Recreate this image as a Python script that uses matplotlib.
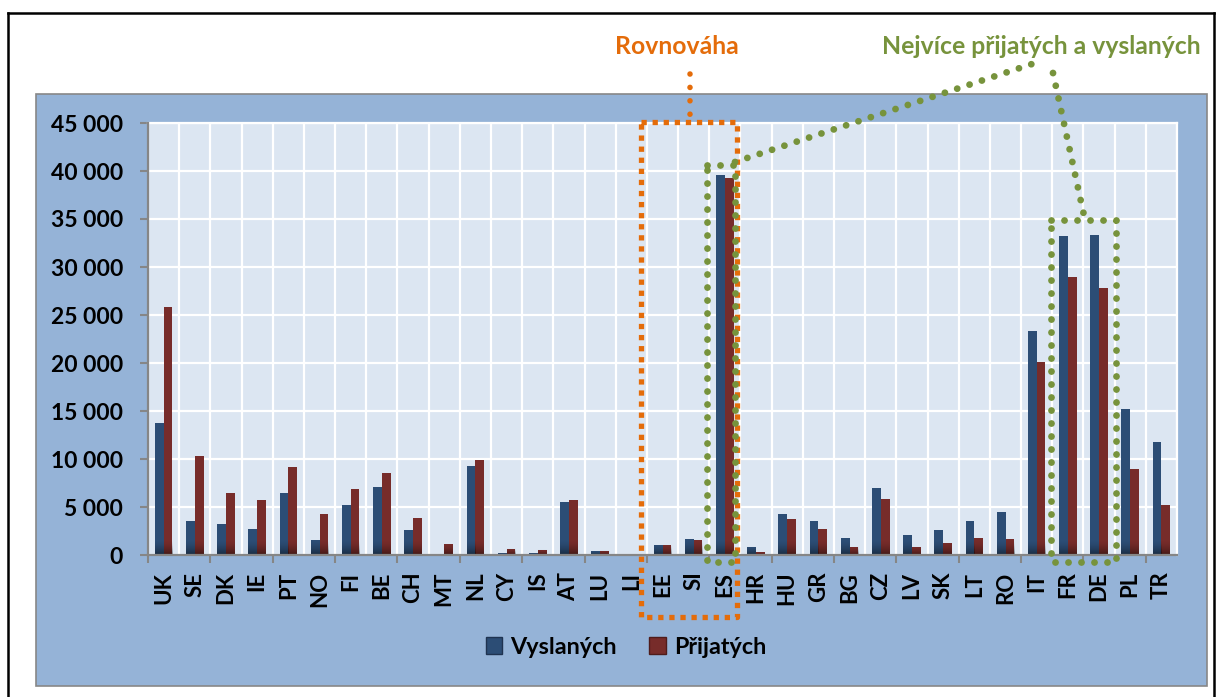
import numpy as np
import matplotlib
matplotlib.use("Agg")
import matplotlib.pyplot as plt
from matplotlib.patches import Rectangle, Patch
from matplotlib.lines import Line2D

countries = ["UK", "SE", "DK", "IE", "PT", "NO", "FI", "BE", "CH", "MT", "NL", "CY", "IS",
             "AT", "LU", "LI", "EE", "SI", "ES", "HR", "HU", "GR", "BG", "CZ", "LV", "SK",
             "LT", "RO", "IT", "FR", "DE", "PL", "TR"]
vyslanych = [13700, 3500, 3250, 2700, 6450, 1600, 5250, 7050, 2650, 100, 9300, 200, 200,
             5550, 400, 10, 1050, 1700, 39600, 850, 4300, 3500, 1800, 6950, 2100, 2600,
             3500, 4500, 23350, 33250, 33350, 15250, 11800]
prijatych = [25800, 10300, 6500, 5700, 9200, 4300, 6900, 8550, 3850, 1150, 9850, 650, 550,
             5750, 450, 5, 1050, 1600, 39300, 300, 3700, 2700, 850, 5800, 850, 1300,
             1800, 1700, 20150, 28950, 27850, 8950, 5200]
y_ticks = [0, 5000, 10000, 15000, 20000, 25000, 30000, 35000, 40000, 45000]
series_names = ["Vyslaných", "Přijatých"]
label_balance = "Rovnováha"
label_most = "Nejvíce přijatých a vyslaných"

FONT = ["Lato", "DejaVu Sans"]
plt.rcParams["font.family"] = FONT
plt.rcParams["font.weight"] = "bold"

W, H = 1218, 697
fig = plt.figure(figsize=(W / 100, H / 100), dpi=100)
fig.patch.set_facecolor("white")


def P(px, py):
    return (px / W, 1 - py / H)


# outer black frame
fig.add_artist(Line2D([8 / W, 8 / W], [0, 1 - 13 / H], transform=fig.transFigure,
                      color="black", lw=1.8, zorder=0))
fig.add_artist(Line2D([8 / W, 1214 / W], [1 - 13 / H, 1 - 13 / H], transform=fig.transFigure,
                      color="black", lw=1.8, zorder=0))
fig.add_artist(Line2D([1214 / W, 1214 / W], [0, 1 - 13 / H], transform=fig.transFigure,
                      color="black", lw=1.8, zorder=0))

# chart area
fig.add_artist(Rectangle(P(36, 686), (1207 - 36) / W, (686 - 94) / H, transform=fig.transFigure,
                         facecolor="#95B3D7", edgecolor="#878787", lw=1.2, zorder=0))

ax = fig.add_axes([148 / W, (H - 555) / H, (1177 - 148) / W, (555 - 123) / H])
ax.set_facecolor("#DCE6F2")

n = len(countries)
x = np.arange(n)
bw = 0.28
blue = "#2C4D75"
red = "#772C2A"
b1 = ax.bar(x - bw / 2, vyslanych, bw, color=blue, zorder=3)
b2 = ax.bar(x + bw / 2, prijatych, bw, color=red, zorder=3)

# darker bottom gradient on bars
grad = np.zeros((64, 1, 4))
grad[..., 3] = (np.linspace(0, 1, 64) ** 1.6)[:, None] * 0.45
for bars in (b1, b2):
    for r in bars:
        h = r.get_height()
        if h <= 0:
            continue
        hh = min(h, 1500)
        ax.imshow(grad, extent=[r.get_x(), r.get_x() + r.get_width(), 0, hh],
                  aspect="auto", origin="upper", interpolation="bilinear", zorder=4)

ax.set_xlim(-0.5, n - 0.5)
ax.set_ylim(0, 45000)

# grid
for b in np.arange(-0.5, n, 1.0):
    ax.axvline(b, color="white", lw=1.6, zorder=1)
ax.set_yticks(y_ticks)
ax.set_yticklabels([f"{v:,}".replace(",", " ") for v in y_ticks])
ax.yaxis.grid(True, color="white", lw=1.6, zorder=1)
ax.set_axisbelow(True)

ax.set_xticks(x)
ax.set_xticklabels(countries, rotation=90, va="top", ha="center")
ax.set_xticks(np.arange(-0.5, n, 2.0), minor=True)
ax.tick_params(axis="x", which="major", length=0, pad=12, labelsize=16)
ax.tick_params(axis="x", which="minor", length=6, width=1.5, color="#868686", direction="out")
ax.tick_params(axis="y", length=6, width=1.5, color="#868686", pad=12, labelsize=16.5)
for lab in ax.get_xticklabels() + ax.get_yticklabels():
    lab.set_fontweight("bold")
    lab.set_color("black")

for s in ("left", "bottom"):
    ax.spines[s].set_color("#868686")
    ax.spines[s].set_linewidth(1.6)
    ax.spines[s].set_zorder(5)
for s in ("top", "right"):
    ax.spines[s].set_color("white")
    ax.spines[s].set_linewidth(1.6)

# legend
handles = [Patch(facecolor=blue, edgecolor="#1F3350"), Patch(facecolor=red, edgecolor="#4F1C1B")]
fig.legend(handles, series_names, loc="center", bbox_to_anchor=P(626, 647), ncol=2,
           frameon=False, handlelength=0.7, handleheight=0.7, handletextpad=0.35,
           columnspacing=1.4, prop={"weight": "bold", "size": 16.8, "family": FONT})

# annotations
orange = "#E46C0A"
green = "#77933C"
fig.text(*P(677, 47), label_balance, color=orange, fontsize=17.8, fontweight="bold",
         ha="center", va="center")
fig.text(*P(1041, 47), label_most, color=green, fontsize=17.8, fontweight="bold",
         ha="center", va="center")


def fig_line(pts, color, lw, ls, cap):
    xs = [p[0] / W for p in pts]
    ys = [1 - p[1] / H for p in pts]
    ln = Line2D(xs, ys, transform=fig.transFigure, color=color, lw=lw, linestyle=ls,
                dash_capstyle=cap, solid_capstyle=cap, zorder=10)
    fig.add_artist(ln)


o_ls = (0, (1.0, 1.1))
fig_line([(690, 74), (690, 121)], orange, 4.0, (0, (0.01, 2.4)), "round")
fig_line([(641, 122), (737, 122), (737, 617), (641, 617), (641, 122)], orange, 3.8, o_ls, "butt")

g_ls = (0, (0.01, 1.9))
GLW = 4.9
fig_line([(706.5, 165), (735, 165), (735, 562), (706.5, 562), (706.5, 165)], green, GLW, g_ls, "round")
fig_line([(735, 162), (1032, 64)], green, GLW, g_ls, "round")
fig_line([(1051, 220), (1116, 220), (1116, 562), (1051, 562), (1051, 220)], green, GLW, g_ls, "round")
fig_line([(1053, 73), (1085, 220)], green, GLW, g_ls, "round")

fig.savefig("out.png", dpi=100)
